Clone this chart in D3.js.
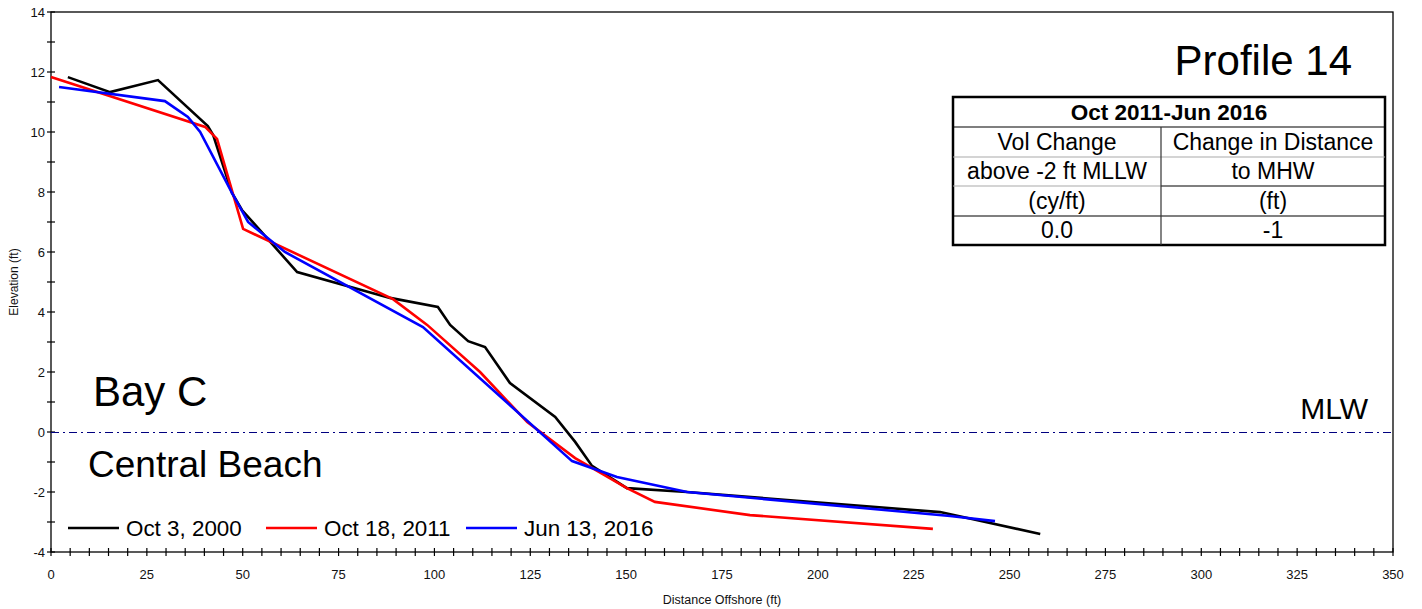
<!DOCTYPE html>
<html><head><meta charset="utf-8">
<script src="https://cdn.jsdelivr.net/npm/d3@7"></script>
<style>body{margin:0;background:#fff;}svg{display:block;font-family:"Liberation Sans",Arial,sans-serif;}</style>
</head><body>
<script>
// Data
const seriesNames = ["Oct 3, 2000", "Oct 18, 2011", "Jun 13, 2016"];
const seriesColors = ["#000000", "#ff0000", "#0000ff"];
const oct2000 = [[4.4,11.83],[15.4,11.33],[27.9,11.73],[40.9,10.2],[42.3,9.9],[47.2,7.97],[49.8,7.4],[64.2,5.33],[88.4,4.47],[100.9,4.17],[104.1,3.57],[108.8,3.03],[113.2,2.83],[119.7,1.63],[131.5,0.5],[136.7,-0.33],[141.1,-1.13],[150.2,-1.87],[165.9,-2.0],[231.9,-2.67],[258,-3.4]];
const oct2011 = [[0,11.83],[40.2,10.17],[43.3,9.77],[50.1,6.77],[89.2,4.43],[98.1,3.57],[111.9,2.0],[124.2,0.33],[136.7,-0.87],[150.2,-1.87],[157.5,-2.33],[182.3,-2.77],[230,-3.23]];
const jun2016 = [[2.1,11.5],[29.7,11.03],[35.7,10.5],[38.9,10.0],[47.2,7.97],[51.4,7.0],[61.0,6.0],[97.0,3.5],[135.9,-0.97],[147.6,-1.5],[165.9,-2.0],[234.5,-2.8],[246.2,-2.97]];
const xTicks = [0,25,50,75,100,125,150,175,200,225,250,275,300,325,350];
const yTicks = [-4,-2,0,2,4,6,8,10,12,14];
const mlwLevel = 0;
const tableHeader = "Oct 2011-Jun 2016";
const tableRows = [["Vol Change","Change in Distance"],["above -2 ft MLLW","to MHW"],["(cy/ft)","(ft)"],["0.0","-1"]];

const W = 1422, H = 609;
const m = {left:51, top:12, right:29, bottom:57};
const svg = d3.select("body").append("svg").attr("width",W).attr("height",H);
const x = d3.scaleLinear().domain([0,350]).range([m.left, W-m.right]);
const y = d3.scaleLinear().domain([-4,14]).range([H-m.bottom, m.top]);

// frame
svg.append("rect").attr("x",x(0)).attr("y",y(14)).attr("width",x(350)-x(0)).attr("height",y(-4)-y(14))
  .attr("fill","none").attr("stroke","#000").attr("stroke-width",1.3);

// x axis ticks (crossing)
const xMinor = d3.range(0,351,5);
svg.append("g").selectAll("line").data(xMinor).join("line")
  .attr("x1",d=>x(d)).attr("x2",d=>x(d)).attr("y1",y(-4)-4).attr("y2",y(-4)+4)
  .attr("stroke","#000").attr("stroke-width",1.2);
svg.append("g").selectAll("text").data(xTicks).join("text")
  .attr("x",d=>x(d)).attr("y",y(-4)+27).attr("text-anchor","middle")
  .attr("font-size",13).attr("fill","#111").text(d=>d);
const yMinor = d3.range(-4,15,1);
svg.append("g").selectAll("line").data(yMinor).join("line")
  .attr("x1",x(0)-4).attr("x2",x(0)+4).attr("y1",d=>y(d)).attr("y2",d=>y(d))
  .attr("stroke","#000").attr("stroke-width",1.2);
svg.append("g").selectAll("text").data(yTicks).join("text")
  .attr("x",x(0)-6).attr("y",d=>y(d)+5).attr("text-anchor","end")
  .attr("font-size",13).attr("fill","#111").text(d=>d);

// axis titles
svg.append("text").attr("x",(x(0)+x(350))/2).attr("y",604).attr("text-anchor","middle")
  .attr("font-size",12.5).attr("fill","#111").text("Distance Offshore (ft)");
svg.append("text").attr("transform",`translate(18,${y(5)}) rotate(-90)`).attr("text-anchor","middle")
  .attr("font-size",12).attr("fill","#111").text("Elevation (ft)");

// MLW line
svg.append("line").attr("x1",x(0)).attr("x2",x(350)).attr("y1",y(mlwLevel)+0.5).attr("y2",y(mlwLevel)+0.5)
  .attr("stroke","#000080").attr("stroke-width",1).attr("shape-rendering","crispEdges")
  .attr("stroke-dasharray","8,4,2,4");

// series
const line = d3.line().x(d=>x(d[0])).y(d=>y(d[1]));
[oct2000, oct2011, jun2016].forEach((s,i)=>{
  svg.append("path").datum(s).attr("d",line).attr("fill","none")
    .attr("stroke",seriesColors[i]).attr("stroke-width",2.6).attr("stroke-linejoin","miter");
});

// labels
svg.append("text").attr("x",1352).attr("y",75).attr("text-anchor","end").attr("font-size",42).text("Profile 14");
svg.append("text").attr("x",93).attr("y",406).attr("font-size",42).text("Bay C");
svg.append("text").attr("x",88).attr("y",477).attr("font-size",37).text("Central Beach");
svg.append("text").attr("x",1368).attr("y",419).attr("text-anchor","end").attr("font-size",30).text("MLW");

// legend
const legX = [68, 266, 466];
seriesNames.forEach((n,i)=>{
  svg.append("line").attr("x1",legX[i]).attr("x2",legX[i]+51).attr("y1",528).attr("y2",528)
    .attr("stroke",seriesColors[i]).attr("stroke-width",2.6);
  svg.append("text").attr("x",legX[i]+58).attr("y",536).attr("font-size",22.4).text(n);
});

// table
const tL=953, tR=1385, tC=1161, rowsY=[97,127,157,186,216,245];
const tg = svg.append("g");
tg.append("rect").attr("x",tL).attr("y",rowsY[0]).attr("width",tR-tL).attr("height",rowsY[5]-rowsY[0])
  .attr("fill","#fff").attr("stroke","#000").attr("stroke-width",2.5);
tg.append("line").attr("x1",tL).attr("x2",tR).attr("y1",rowsY[1]).attr("y2",rowsY[1]).attr("stroke","#000").attr("stroke-width",1.2);
tg.append("line").attr("x1",tL).attr("x2",tR).attr("y1",rowsY[2]).attr("y2",rowsY[2]).attr("stroke","#aaa").attr("stroke-width",1.2);
tg.append("line").attr("x1",tL).attr("x2",tC).attr("y1",rowsY[3]).attr("y2",rowsY[3]).attr("stroke","#aaa").attr("stroke-width",1.2);
tg.append("line").attr("x1",tC).attr("x2",tR).attr("y1",rowsY[3]).attr("y2",rowsY[3]).attr("stroke","#000").attr("stroke-width",1.2);
tg.append("line").attr("x1",tL).attr("x2",tR).attr("y1",rowsY[4]).attr("y2",rowsY[4]).attr("stroke","#000").attr("stroke-width",1.2);
tg.append("line").attr("x1",tC).attr("x2",tC).attr("y1",rowsY[1]).attr("y2",rowsY[5]).attr("stroke","#333").attr("stroke-width",1.2);
tg.append("text").attr("x",(tL+tR)/2).attr("y",rowsY[1]-7).attr("text-anchor","middle")
  .attr("font-size",22.5).attr("font-weight","bold").text(tableHeader);
tableRows.forEach((r,i)=>{
  const yb = rowsY[i+2]-7;
  tg.append("text").attr("x",(tL+tC)/2).attr("y",yb).attr("text-anchor","middle").attr("font-size",23).text(r[0]);
  tg.append("text").attr("x",(tC+tR)/2).attr("y",yb).attr("text-anchor","middle").attr("font-size",23).text(r[1]);
});
</script>
</body></html>
